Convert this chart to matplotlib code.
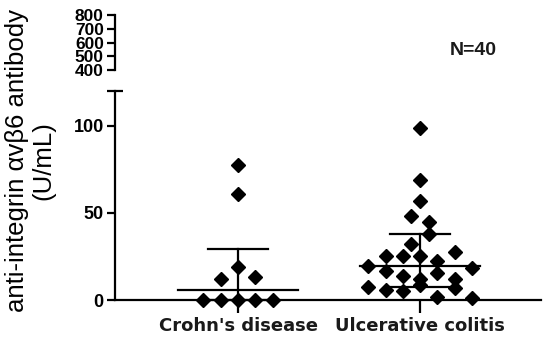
import numpy as np
import matplotlib
matplotlib.use('Agg')
import matplotlib.pyplot as plt

groups = ["Crohn's disease", "Ulcerative colitis"]

# values (U/mL), with horizontal offsets of the beeswarm
crohn_vals = [0, 0, 0, 0, 0, 11.9, 13.0, 18.8, 60.7, 77.6]
crohn_off = [-2, -1, 0, 1, 2, -1, 1, 0, 0, 0]
uc_vals = [98.6, 68.6, 56.5, 47.9, 44.6, 37.8, 32.0, 25.5, 25.5, 25.1, 27.8, 22.6,
           19.7, 16.7, 18.6, 15.3, 13.8, 12.1, 12.1, 8.6, 6.7, 7.6, 5.7, 5.2, 1.9, 1.3]
uc_off = [0, 0, 0, -0.5, 0.5, 0.5, -0.5, -2, -1, 0, 2, 1,
          -3, -2, 3, 1, -1, 0, 2, 0, 2, -3, -2, -1, 1, 3]

# median with interquartile range, as drawn in the reference
medians = [6.0, 19.5]
q1s = [0.0, 7.3]
q3s = [29.3, 38.1]

n_label = 'N=40'
dx = 0.095  # spacing of the swarm columns in category units

plt.rcParams['font.family'] = ['Liberation Sans', 'DejaVu Sans']

fig = plt.figure(figsize=(5.5, 3.41), dpi=100)
ax = fig.add_axes([0.209, 0.1202, 0.775, 0.614])
ax_top = fig.add_axes([0.209, 0.7947, 0.775, 0.161])

lw = 1.6
for i, (vals, offs) in enumerate([(crohn_vals, crohn_off), (uc_vals, uc_off)]):
    x0 = i + 1
    xs = x0 + np.array(offs) * dx
    ax.plot(xs, vals, 'D', color='black', ms=7, clip_on=False, zorder=3)
    med, q1, q3 = medians[i], q1s[i], q3s[i]
    ax.plot([x0 - 0.33, x0 + 0.33], [med, med], color='black', lw=lw, zorder=2, clip_on=False)
    ax.plot([x0 - 0.165, x0 + 0.165], [q1, q1], color='black', lw=lw, zorder=2, clip_on=False)
    ax.plot([x0 - 0.165, x0 + 0.165], [q3, q3], color='black', lw=lw, zorder=2, clip_on=False)
    ax.plot([x0, x0], [q1, q3], color='black', lw=lw, zorder=2, clip_on=False)

ax.set_xlim(0.324, 2.665)
ax.set_ylim(0, 120)
ax.set_xticks([1, 2])
ax.set_xticklabels(groups, fontsize=13, fontweight='bold', color='#1a1a1a',
                   family=['DejaVu Sans'])
ax.set_yticks([0, 50, 100])
ax.set_yticks([120], minor=True)
ax.tick_params(axis='y', which='major', direction='out', length=6, width=lw, labelsize=13, pad=2)
ax.tick_params(axis='y', which='minor', direction='inout', length=12, width=lw)
ax.tick_params(axis='x', direction='out', length=9, width=lw, pad=3)
for lab in ax.get_yticklabels():
    lab.set_fontweight('bold')
for s in ['top', 'right']:
    ax.spines[s].set_visible(False)
ax.spines['left'].set_linewidth(lw)
ax.spines['bottom'].set_linewidth(lw)

ax_top.set_ylim(400, 800)
ax_top.set_xlim(0.324, 2.665)
ax_top.set_yticks([400, 500, 600, 700, 800])
ax_top.set_yticks([400], minor=True)
ax_top.tick_params(axis='y', which='major', direction='out', length=6, width=lw, labelsize=12.5, pad=2)
ax_top.tick_params(axis='y', which='minor', direction='in', length=6, width=lw)
for lab in ax_top.get_yticklabels():
    lab.set_fontweight('bold')
ax_top.set_xticks([])
for s in ['top', 'right', 'bottom']:
    ax_top.spines[s].set_visible(False)
ax_top.spines['left'].set_linewidth(lw)
ax_top.patch.set_alpha(0)

fig.text(0.055, 0.528, 'anti-integrin \u03b1v\u03b26 antibody\n(U/mL)', rotation=90,
         ha='center', va='center', fontsize=18.5, multialignment='center', linespacing=1.1)
fig.text(0.86, 0.853, n_label, ha='center', va='center', fontsize=14, fontweight='bold', color='#1a1a1a')

fig.savefig('out.png', dpi=100)
